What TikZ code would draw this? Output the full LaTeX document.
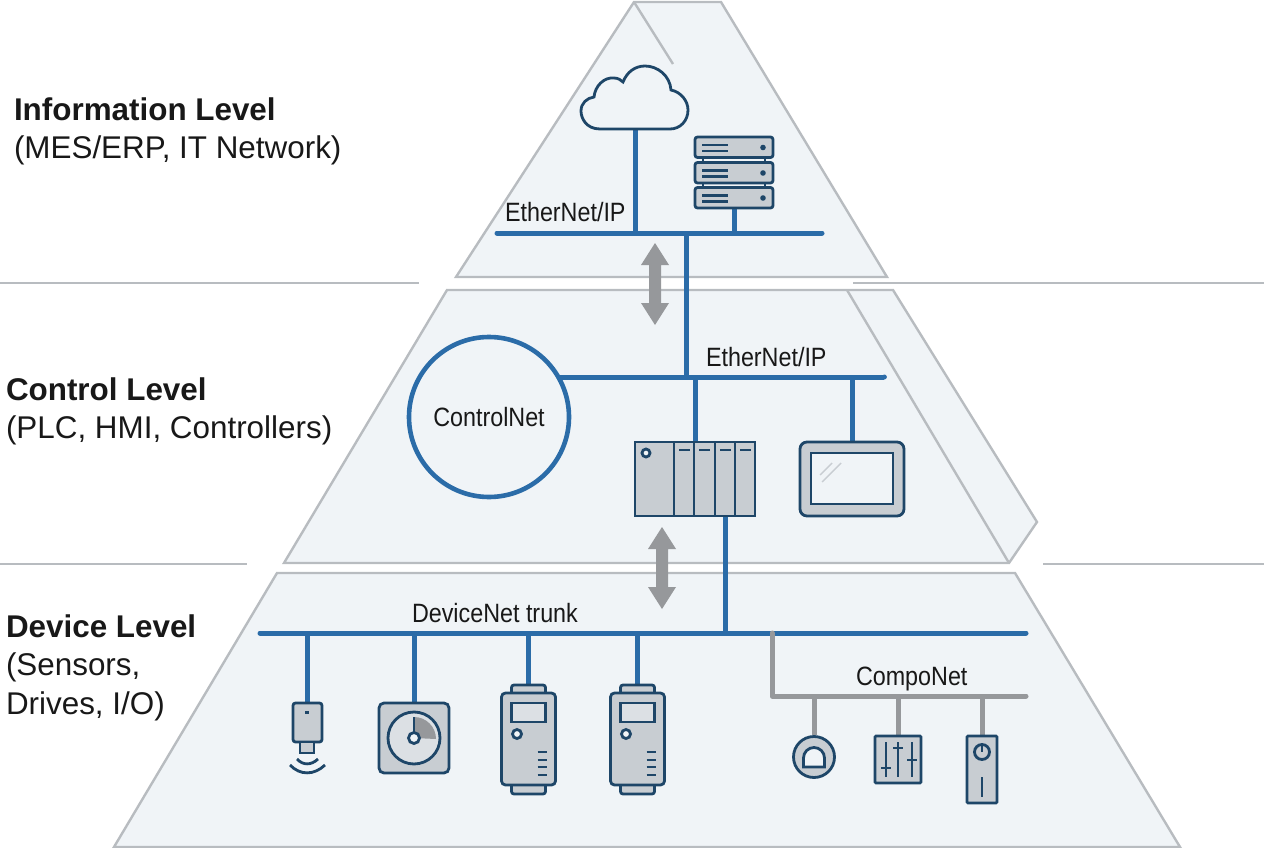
\documentclass[tikz,border=0pt]{standalone}
\usepackage{fontspec}
\setmainfont{Liberation Sans}
\newfontfamily\busfont[FakeStretch=0.88]{Liberation Sans}
\definecolor{cpane}{RGB}{240,244,247}
\definecolor{cedge}{RGB}{184,188,192}
\definecolor{cbus}{RGB}{43,108,168}
\definecolor{cicon}{RGB}{30,70,104}
\definecolor{cbody}{RGB}{200,205,210}
\definecolor{cgrey}{RGB}{150,152,155}
\definecolor{cink}{RGB}{24,24,24}
\tikzset{
  pane/.style={draw=cedge,fill=cpane,line width=2.4pt,line join=miter},
  rule/.style={draw=cedge,line width=2pt},
  bus/.style={draw=cbus,line width=5pt,line cap=round},
  stem/.style={draw=cbus,line width=5pt},
  greybus/.style={draw=cgrey,line width=5pt,line cap=round,line join=round},
  greystem/.style={draw=cgrey,line width=5pt},
  icon/.style={draw=cicon,fill=cbody,line width=2.8pt,rounded corners=2.5pt},
  iconline/.style={draw=cicon,line width=2.8pt},
  busname/.style={anchor=base west,text=cink,font=\busfont\fontsize{26.5}{30}\selectfont},
  levelname/.style={anchor=north west,align=left,text=cink,font=\fontsize{31.4}{38.5}\selectfont},
  updown/.style={draw=none,fill=cgrey},
}
\newcommand{\drivebox}[1]{%
  \path[icon] (#1-17,685) rectangle (#1+17,697);
  \path[icon] (#1-17,781) rectangle (#1+17,794);
  \path[icon,rounded corners=4pt] (#1-27,693) rectangle (#1+27,785);
  \path[iconline,fill=cpane!50!cbody] (#1-17,703) rectangle (#1+17,722);
  \path[iconline,fill=cpane] (#1-11.5,734) circle (4.5);
  \foreach \rowy in {752,760,767,775}
    \draw[cicon,line width=2.6pt] (#1+9,\rowy) -- (#1+18.5,\rowy);
}
\newcommand{\rackunit}[1]{%
  \path[icon] (695,#1) rectangle (773,#1+20.5);
  \draw[cicon,line width=2.2pt] (702,#1+8) -- (728,#1+8) (702,#1+14) -- (728,#1+14);
  \fill[cicon] (763,#1+10.5) circle (2.8);
}
\newcommand{\linkarrow}[3]{%
  \path[updown] (#1,#2) -- (#1+14,#2+22) -- (#1+6,#2+22) -- (#1+6,#3-22) -- (#1+14,#3-22)
    -- (#1,#3) -- (#1-14,#3-22) -- (#1-6,#3-22) -- (#1-6,#2+22) -- (#1-14,#2+22) -- cycle;
}
\begin{document}
\begin{tikzpicture}[y=1pt,x=1pt,yscale=-1,inner sep=0pt,outer sep=0pt]
  \useasboundingbox (0,0) rectangle (1264,848);
  % guide rules
  \path[rule] (0,283) -- (419,283);
  \path[rule] (853,283) -- (1264,283);
  \path[rule] (0,564) -- (247,564);
  \path[rule] (1043,564) -- (1264,564);
  % tiers
  \path[pane] (634,2) -- (456,277) -- (887,277) -- (721,2) -- cycle;
  \path[draw=cedge,line width=2.4pt] (634,2) -- (673,64);
  \path[pane] (447,290) -- (284,563) -- (1009,563) -- (1037,522) -- (893,290) -- cycle;
  \path[draw=cedge,line width=2.4pt] (847,290) -- (1009,563);
  \path[pane] (277,573) -- (114,847) -- (1180,847) -- (1015,573) -- cycle;
  % level names
  \node[levelname] (infolevel) at (14,97.5) {\textbf{Information Level}\\(MES/ERP, IT Network)};
  \node[levelname] (ctrllevel) at (6,377.5) {\textbf{Control Level}\\(PLC, HMI, Controllers)};
  \node[levelname] (devlevel) at (6,614.5) {\textbf{Device Level}\\(Sensors,\\Drives, I/O)};
  % attachment points
  \coordinate (ipl) at (497,233);
  \coordinate (ipr) at (822,233);
  \coordinate (ctr) at (884,377);
  \coordinate (trl) at (260,633);
  \coordinate (trr) at (1026,633);
  \coordinate (cpl) at (772,696);
  \coordinate (cpr) at (1026,696);
  \coordinate (cloud) at (635,129);
  \coordinate (server) at (734,208);
  \coordinate (uplink) at (686,233);
  \coordinate (plctop) at (695,442);
  \coordinate (plcbot) at (725,516);
  \coordinate (hmi) at (852,442);
  \coordinate (sensor) at (307,703);
  \coordinate (gauge) at (414,703);
  \coordinate (drivea) at (528,685);
  \coordinate (driveb) at (637,685);
  \coordinate (dome) at (814,735);
  \coordinate (slider) at (898,736);
  \coordinate (knob) at (982,736);
  % controlnet
  \node[circle,draw=cbus,fill=cpane,line width=4.6pt,minimum size=160pt,text=cink,font=\busfont\fontsize{26.5}{30}\selectfont] (ctrlnet) at (489,417) {ControlNet};
  % buses
  \path[bus] (ipl) -- (ipr);
  \path[bus,line cap=butt] (ctrlnet.30) -- (ctr |- ctrlnet.30);
  \path[bus] (ctr |- ctrlnet.30) -- (ctr);
  \path[bus] (trl) -- (trr);
  \path[stem] (uplink) -- (uplink |- ctr);
  \path[stem] (cloud) -- (cloud |- ipl);
  \path[stem] (server) -- (server |- ipl);
  \path[stem] (plctop) -- (plctop |- ctr);
  \path[stem] (hmi) -- (hmi |- ctr);
  \path[stem] (plcbot) -- (plcbot |- trl);
  \path[stem] (sensor) -- (sensor |- trl);
  \path[stem] (gauge) -- (gauge |- trl);
  \path[stem] (drivea) -- (drivea |- trl);
  \path[stem] (driveb) -- (driveb |- trl);
  % compo
  \path[greybus] (cpl |- trl) -- (cpl) -- (cpr);
  \path[greystem] (dome) -- (dome |- cpl);
  \path[greystem] (slider) -- (slider |- cpl);
  \path[greystem] (knob) -- (knob |- cpl);
  % bus names
  \node[busname] (ipa) at (505,222) {EtherNet/IP};
  \node[busname] (ipb) at (706,366) {EtherNet/IP};
  \node[busname] (trunk) at (412,622) {DeviceNet trunk};
  \node[busname] (compo) at (856,685) {CompoNet};
  % up down arrows
  \linkarrow{655}{243}{325}
  \linkarrow{662}{527}{609}
  % cloud
  \path[draw=cicon,fill=cpane,line width=2.8pt]
    (600,129) .. controls (586,129) and (581,118) .. (581,111)
    .. controls (581,103) and (587,98) .. (594,97)
    .. controls (595,86) and (604,77) .. (614,78)
    .. controls (618,78) and (621,80) .. (623,82)
    .. controls (627,72) and (635,66) .. (645,66)
    .. controls (658,66) and (670,76) .. (671,90)
    .. controls (681,92) and (688,101) .. (688,110)
    .. controls (688,121) and (680,129) .. (670,129) -- cycle;
  % server
  \draw[cicon,line width=2.4pt] (703,158) -- (703,188) (765,158) -- (765,188);
  \rackunit{137}
  \rackunit{162.5}
  \rackunit{187.5}
  % plc
  \path[icon,rounded corners=0pt] (635,442) rectangle (755,516);
  \foreach \slotx in {674,694,715,735} {
    \draw[cicon,line width=2.8pt] (\slotx,442) -- (\slotx,516);
    \draw[cicon,line width=2.4pt] (\slotx+5,450) -- (\slotx+16,450);
  }
  \path[iconline,fill=cpane] (646,453) circle (4);
  % hmi
  \path[icon,rounded corners=7pt] (800,442) rectangle (904,516);
  \path[iconline,fill=cpane] (811,453) rectangle (893,504);
  \draw[cbody,line width=1.4pt] (820,475) -- (832,463) (822,482) -- (841,463);
  % device row
  \path[icon] (293,703) rectangle (322,742);
  \path[icon,rounded corners=0pt] (300,742) rectangle (314,753);
  \draw[iconline] (297,759) .. controls (303,765.5) and (311,765.5) .. (318,759);
  \draw[iconline] (290,765) .. controls (300,775.5) and (314,775.5) .. (325,765);
  \fill[cicon] (305,711) rectangle (309,713.5);
  \path[icon,rounded corners=5pt] (379,703) rectangle (449,773);
  \path[iconline,fill=cbody!50!cpane] (414,738) circle (26);
  \fill[cgrey] (414,738) -- (414,717) arc(-90:0:22) -- cycle;
  \draw[iconline] (414,738) -- (414,717);
  \path[iconline,fill=cpane] (414,738) circle (5.5);
  \drivebox{528.5}
  \drivebox{637.5}
  % compo devices
  \path[iconline,fill=cbody] (814,757) circle (20.5);
  \path[iconline,fill=cpane] (803.5,767) -- (803.5,758) arc(180:360:10.5) -- (824.5,767) -- cycle;
  \path[icon,rounded corners=1pt] (875,736) rectangle (921,783);
  \draw[cicon,line width=2.6pt] (886,742) -- (886,777) (898,742) -- (898,777) (912,742) -- (912,777);
  \draw[cicon,line width=2.6pt] (881,768) -- (891,768) (893,748) -- (903,748) (907,760) -- (917,760);
  \path[icon,rounded corners=1pt] (967,736) rectangle (997,803);
  \path[iconline,fill=cbody] (982,752) circle (7.5);
  \draw[cicon,line width=2.6pt] (982,744.5) -- (982,752) (982,777) -- (982,797);
\end{tikzpicture}
\end{document}
